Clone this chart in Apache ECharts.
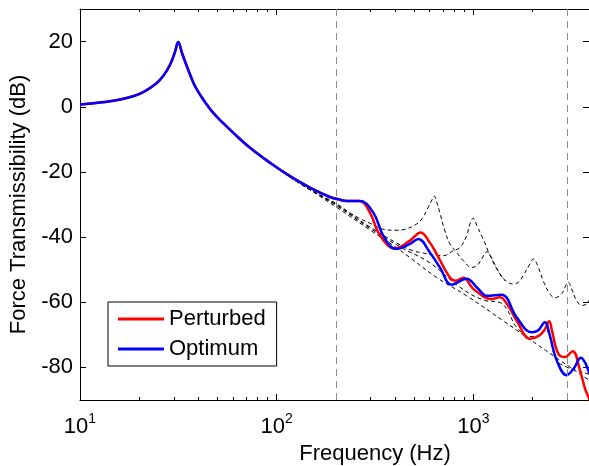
<!DOCTYPE html>
<html>
<head>
<meta charset="utf-8">
<script src="https://cdn.jsdelivr.net/npm/echarts@6/dist/echarts.min.js"></script>
<style>
html,body{margin:0;padding:0;background:#fff;}
#chart{width:589px;height:466px;}
</style>
</head>
<body>
<div id="chart"></div>
<script>
// shared low-frequency part (all curves lie on top of each other)
const freqBase = [10, 12.6, 16, 20.2, 24.5, 26.6, 28.7, 30.4, 31.6, 33.0, 34.9, 37.7, 39.2, 41.5, 44.1, 47.6, 53, 60.2, 73.2, 92.5];
const dbBase = [0.7, 1.3, 2.2, 4.0, 7.2, 9.6, 12.9, 16.8, 19.9, 16.5, 12.5, 7.4, 5.4, 3.0, 0.7, -1.9, -4.8, -8.0, -12.6, -17.2];

// perturbed / optimum shoulder before they split
const freqShoulder = [116.8, 147.6, 186.6, 205.6, 227, 265];
const dbShoulder = [-21.3, -24.8, -27.7, -28.4, -28.9, -28.9];

const freqRed = [298, 328.6, 369, 399, 476, 540, 601, 651, 760, 816, 889, 1000, 1239, 1365, 1500, 1660, 1941, 2150, 2300, 2432, 2510, 2702, 2923, 3199, 3486, 3692, 3870, 4000];
const dbRed = [-32.5, -38.6, -42.7, -43.5, -41.1, -38.6, -41.7, -45.2, -52.4, -53.4, -52.5, -55.9, -59.0, -58.5, -61.0, -65.6, -71.2, -70.3, -68.5, -65.8, -68.7, -75.8, -76.8, -75.0, -80.9, -86.4, -89.5, -92.0];

const freqBlue = [310, 342, 377, 405, 476, 525, 601, 676, 776, 924, 1055, 1168, 1393, 1660, 1979, 2130, 2312, 2449, 2652, 2981, 3243, 3525, 3692, 3870, 4000];
const dbBlue = [-32.5, -38.6, -42.7, -43.6, -42.1, -40.6, -44.7, -49.3, -54.6, -52.8, -55.8, -58.0, -57.7, -64.6, -69.2, -68.7, -66.1, -70.2, -77.8, -82.4, -80.3, -77.0, -78.4, -81.4, -83.0];

// black dashed reference curves
const freqD0 = [116.8, 147.6, 202, 298, 408, 476, 651, 924, 1419, 1866, 2754, 3870, 4000];
const dbD0 = [-21.6, -25.5, -30.9, -37.8, -43.3, -46.3, -52.4, -58.0, -65.7, -70.7, -77.8, -83.9, -84.5];

const freqD1 = [116.8, 147.6, 202, 236, 265, 304, 348, 404, 449, 505, 548, 588, 616, 631, 651, 676, 717, 760, 822, 889, 980, 1042, 1106, 1172, 1214, 1288, 1365, 1445];
const dbD1 = [-21.6, -25.4, -29.8, -32.6, -34.3, -36.0, -37.6, -37.9, -37.6, -36.3, -34.4, -31.0, -28.6, -27.4, -29.2, -32.6, -38.1, -42.1, -44.7, -47.2, -49.3, -48.8, -46.6, -44.5, -45.4, -48.5, -51.3, -53.4];

const freqD2 = [116.8, 147.6, 202, 298, 424, 493, 548, 638, 703, 790, 855, 924, 961, 1000, 1042, 1122, 1239, 1365, 1465, 1589, 1691, 1794, 1941, 2018, 2140, 2266, 2449, 2599, 2811, 2923, 3040, 3162, 3352, 3565, 3767, 3870, 4000];
const dbD2 = [-21.6, -25.4, -30.1, -36.9, -42.4, -44.2, -44.8, -45.6, -45.7, -44.2, -43.2, -39.6, -36.0, -34.2, -36.5, -40.6, -46.7, -51.3, -53.4, -54.4, -53.9, -51.8, -48.2, -46.7, -49.3, -53.4, -57.4, -58.6, -57.4, -55.4, -53.9, -55.9, -59.5, -61.0, -60.5, -59.5, -58.5];

const freqD3 = [116.8, 147.6, 202, 298, 424, 601, 855, 1122, 1365, 1483, 1660, 1941, 2183, 2339, 2449, 2652, 2981, 3352, 3870, 4000];
const dbD3 = [-21.6, -25.4, -30.4, -37.3, -43.0, -47.9, -55.4, -59.3, -60.1, -62.2, -67.7, -70.5, -70.2, -68.3, -70.8, -77.8, -79.9, -80.9, -82.1, -82.5];

const bandEdges = [200, 3000];

const FONT = 'Liberation Sans, Arial, sans-serif';

function pts(fs, ds){
    return fs.map((f, i)=>[f, ds[i]]);
}
function withBase(fs, ds){
    return pts(freqBase.concat(fs), dbBase.concat(ds));
}

const dashStyle = { color:'#000', width:1, type:[4,3] };

function dashed(data, extra){
    return Object.assign({
        type:'line',
        data:data,
        showSymbol:false,
        symbol:'none',
        smooth:0.4,
        lineStyle:dashStyle,
        silent:true,
        z:2
    }, extra || {});
}

const chart = echarts.init(document.getElementById('chart'));

const logAxisCommon = {
    type:'log',
    logBase:10,
    min:10,
    max:10000,
    gridIndex:0,
    axisLine:{ show:true, onZero:false, lineStyle:{ color:'#000', width:1 } },
    axisTick:{ show:true, inside:true, length:6, lineStyle:{ color:'#000' } },
    minorTick:{ show:true, splitNumber:9, length:3, lineStyle:{ color:'#000' } },
    splitLine:{ show:false },
    minorSplitLine:{ show:false }
};

let option = {
    animation:false,
    backgroundColor:'#fff',
    grid:[
        { left:80, top:9, width:590, height:391, outerBoundsMode:'none', containLabel:false },
        { left:80, top:9, width:509, height:391, outerBoundsMode:'none', containLabel:false }
    ],
    legend:{
        data:['Perturbed', 'Optimum'],
        orient:'vertical',
        left:108,
        top:302,
        padding:[6,11,6,10],
        itemGap:8,
        itemWidth:46,
        itemHeight:3,
        icon:'rect',
        backgroundColor:'#fff',
        borderColor:'#000',
        borderWidth:1,
        borderRadius:0,
        selectedMode:false,
        textStyle:{ fontSize:22, fontFamily:FONT, color:'#000', lineHeight:22 },
        z:10
    },
    xAxis:[
        Object.assign({}, logAxisCommon, {
            position:'bottom',
            name:'Frequency (Hz)',
            nameLocation:'middle',
            nameGap:39,
            nameTextStyle:{ fontSize:22, fontFamily:FONT, color:'#000' },
            axisLabel:{
                show:true,
                margin:12,
                color:'#000',
                formatter:(value)=>{
                    let e = Math.log10(value);
                    let r = Math.round(e);
                    if ( Math.abs(e - r) > 1e-6 ) return '';
                    return '{b|10}{s|' + r + '}';
                },
                rich:{
                    b:{ fontSize:22, fontFamily:FONT, color:'#000', lineHeight:30 },
                    s:{ fontSize:14, fontFamily:FONT, color:'#000', lineHeight:14, verticalAlign:'top' }
                }
            }
        }),
        Object.assign({}, logAxisCommon, {
            position:'top',
            axisLabel:{ show:false }
        }),
        { type:'value', gridIndex:1, min:0, max:1, show:false }
    ],
    yAxis:[
        {
            type:'value',
            gridIndex:0,
            position:'left',
            min:-90,
            max:30,
            name:'Force Transmissibility (dB)',
            nameLocation:'middle',
            nameGap:43,
            nameTextStyle:{ fontSize:22, fontFamily:FONT, color:'#000' },
            axisLine:{ show:true, onZero:false, lineStyle:{ color:'#000', width:1 } },
            axisTick:{ show:true, inside:true, length:6, lineStyle:{ color:'#000' } },
            axisLabel:{
                margin:7,
                fontSize:22,
                fontFamily:FONT,
                color:'#000',
                formatter:(value)=> value % 20 === 0 ? String(value) : ''
            },
            splitLine:{ show:false }
        },
        {
            type:'value',
            gridIndex:1,
            position:'right',
            min:-90,
            max:30,
            axisLine:{ show:false, onZero:false },
            axisTick:{ show:true, inside:true, length:6, lineStyle:{ color:'#000' } },
            axisLabel:{ show:false },
            splitLine:{ show:false }
        }
    ],
    series:[
        dashed(withBase(freqD0, dbD0), {
            markLine:{
                silent:true,
                symbol:'none',
                label:{ show:false },
                lineStyle:{ color:'#8c8c8c', width:1, type:[7,5] },
                data:bandEdges.map((f)=>({ xAxis:f }))
            }
        }),
        dashed(withBase(freqD1, dbD1)),
        dashed(withBase(freqD2, dbD2)),
        dashed(withBase(freqD3, dbD3)),
        {
            name:'Perturbed',
            type:'line',
            data:withBase(freqShoulder.concat(freqRed), dbShoulder.concat(dbRed)),
            showSymbol:false,
            symbol:'none',
            smooth:0.4,
            color:'#ff0000',
            lineStyle:{ color:'#ff0000', width:2.5 },
            z:3
        },
        {
            name:'Optimum',
            type:'line',
            data:withBase(freqShoulder.concat(freqBlue), dbShoulder.concat(dbBlue)),
            showSymbol:false,
            symbol:'none',
            smooth:0.4,
            color:'#0000ff',
            lineStyle:{ color:'#0000ff', width:2.5 },
            z:4
        }
    ]
};
chart.setOption(option);
</script>
</body>
</html>
